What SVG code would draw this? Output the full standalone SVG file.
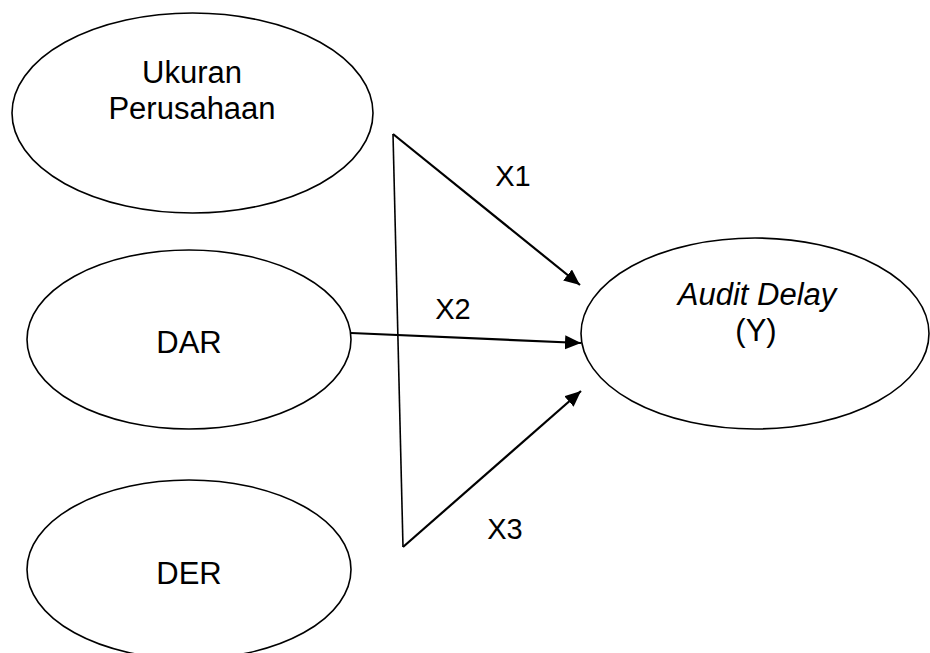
<svg xmlns="http://www.w3.org/2000/svg" width="930" height="653" viewBox="0 0 930 653">
<defs>
<marker id="ah" markerUnits="userSpaceOnUse" markerWidth="18" markerHeight="16" refX="16" refY="7" orient="auto">
<path d="M0,0 L16,7 L0,14 z" fill="#000"/>
</marker>
<style>
.node{fill:#fff;stroke:#000;stroke-width:1.6}
.t{font-family:"Liberation Sans",Arial,sans-serif;font-size:31px;fill:#000;text-anchor:middle}
.lbl{font-family:"Liberation Sans",Arial,sans-serif;font-size:29px;fill:#000;text-anchor:middle}
.c{fill:none;stroke:#000;stroke-width:2.2}
</style>
</defs>
<rect width="930" height="653" fill="#fff"/>
<g id="ukuran">
<ellipse class="node" cx="192.5" cy="113" rx="180.5" ry="100"/>
<text class="t" x="192" y="83">Ukuran</text>
<text class="t" x="192" y="119">Perusahaan</text>
</g>
<g id="dar">
<ellipse class="node" cx="189" cy="339.5" rx="162" ry="89.5"/>
<text class="t" x="189" y="353">DAR</text>
</g>
<g id="der">
<ellipse class="node" cx="189" cy="569.5" rx="162" ry="89.5"/>
<text class="t" x="189" y="584">DER</text>
</g>
<g id="audit">
<ellipse class="node" cx="755" cy="333.5" rx="174" ry="95.5"/>
<text class="t" x="757" y="305" font-style="italic">Audit Delay</text>
<text class="t" x="756" y="341">(Y)</text>
</g>
<g id="connectors">
<path d="M393,134 L403,547" fill="none" stroke="#000" stroke-width="1.6"/>
<path class="c" d="M393,134 L580,285" marker-end="url(#ah)"/>
<path class="c" d="M351,333 L581,343" marker-end="url(#ah)"/>
<path class="c" d="M403,547 L581,391" marker-end="url(#ah)"/>
<text class="lbl" x="513" y="186">X1</text>
<text class="lbl" x="453" y="319">X2</text>
<text class="lbl" x="505" y="539">X3</text>
</g>
</svg>
